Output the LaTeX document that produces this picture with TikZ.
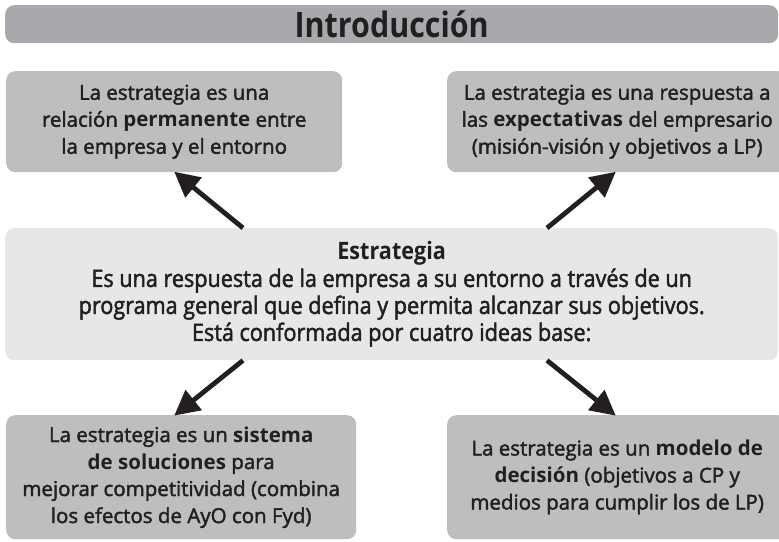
\documentclass[tikz,border=0pt]{standalone}
\usepackage{fontspec}
\setmainfont{Open Sans}[UprightFeatures={FakeBold=2}]
\newfontfamily\condfont{Open Sans}[FakeStretch=0.9,UprightFeatures={FakeBold=2}]
\newfontfamily\titlefont{Open Sans}[FakeStretch=0.87]
\usetikzlibrary{arrows.meta}
\definecolor{titlegray}{HTML}{A7A9AC}
\definecolor{boxgray}{HTML}{BCBEC0}
\definecolor{lightgray}{HTML}{E6E7E8}
\definecolor{ink}{HTML}{231F20}
\tikzset{
  idea/.style={fill=boxgray, rounded corners=9pt, align=center, text=ink,
    inner sep=0pt, font=\fontsize{20.5}{27}\selectfont},
  bigarrow/.style={line width=4.8pt, draw=ink,
    -{Triangle[length=25pt,width=25pt]}, shorten >=-1pt}
}
\begin{document}
\begin{tikzpicture}[x=1pt,y=-1pt]
\useasboundingbox (0,0) rectangle (779,541);
% title
\node[fill=titlegray, rounded corners=9pt, minimum width=773pt, minimum height=38pt,
  anchor=north west, inner sep=0pt, text=ink,
  font=\titlefont\fontsize{35}{38}\selectfont\bfseries] (title) at (5,5) {Introducción};
% top boxes
\node[idea, minimum width=336pt, minimum height=101pt, anchor=north west] (tl) at (6,71)
  {La estrategia es una\\ relación \textbf{permanente} entre\\ la empresa y el entorno};
\node[idea, minimum width=340pt, minimum height=101pt, anchor=north west] (tr) at (447,71)
  {La estrategia es una respuesta a\\ las \textbf{expectativas} del empresario\\ (misión-visión y objetivos a LP)};
% centre box
\node[fill=lightgray, rounded corners=9pt, minimum width=773pt, minimum height=132pt,
  anchor=north west, inner sep=0pt, align=center, text=ink,
  font=\condfont\fontsize{24}{27}\selectfont] (c) at (5,228)
  {\textbf{Estrategia}\\ Es una respuesta de la empresa a su entorno a través de un\\
   programa general que defina y permita alcanzar sus objetivos.\\
   Está conformada por cuatro ideas base:};
% bottom boxes
\node[idea, minimum width=350pt, minimum height=124pt, anchor=north west] (bl) at (6,415)
  {La estrategia es un \textbf{sistema}\\ \textbf{de soluciones} para\\ mejorar competitividad (combina\\ los efectos de AyO con Fyd)};
\node[idea, minimum width=340pt, minimum height=124pt, anchor=north west] (br) at (447,415)
  {La estrategia es un \textbf{modelo de}\\ \textbf{decisión} (objetivos a CP y\\ medios para cumplir los de LP)};
% arrows
\draw[bigarrow] ([xshift=238pt]c.north west) -- ([xshift=169pt]tl.south west);
\draw[bigarrow] ([xshift=542pt]c.north west) -- ([xshift=168pt]tr.south west);
\draw[bigarrow] ([xshift=238pt]c.south west) -- ([xshift=169pt]bl.north west);
\draw[bigarrow] ([xshift=542pt]c.south west) -- ([xshift=168pt]br.north west);
\end{tikzpicture}
\end{document}
